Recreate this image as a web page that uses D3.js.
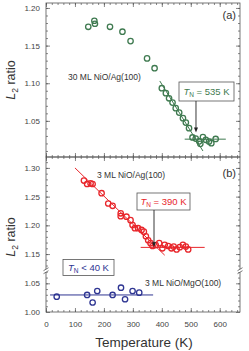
<!DOCTYPE html>
<html>
<head>
<meta charset="utf-8">
<script src="https://d3js.org/d3.v7.min.js"></script>
<style>
  body {margin: 0; background: #fff;}
  text {font-family: "Liberation Sans", Arial, sans-serif;}
</style>
</head>
<body>
<script>
// (a) 30 ML NiO/Ag(100)
var ag30T  = [146, 167, 169, 221, 264, 292, 349, 375, 400, 414, 425, 437, 448, 460, 473, 483, 494, 506, 517, 529, 533, 542, 552, 563, 571, 586];
var ag30L2 = [1.175, 1.183, 1.179, 1.175, 1.1685, 1.156, 1.133, 1.120, 1.0934, 1.0868, 1.080, 1.0743, 1.0669, 1.061, 1.0536, 1.0477, 1.0403, 1.028, 1.0265, 1.0228, 1.0195, 1.0284, 1.0248, 1.0225, 1.0204, 1.026];
var ag30Slope = [[393, 1.103], [542, 1.010]];
var ag30Flat  = [[479, 1.0257], [621, 1.0257]];

// (b) 3 ML NiO/Ag(100)
var ag3T  = [131, 142, 154, 161, 192, 215, 230, 258, 258, 278, 292, 299, 307, 318, 330, 338, 345, 353, 361, 368, 379, 391, 402, 410, 422, 433, 441, 451, 462, 473, 483, 491];
var ag3L2 = [1.278, 1.272, 1.273, 1.272, 1.256, 1.238, 1.234, 1.221, 1.216, 1.215, 1.209, 1.2005, 1.195, 1.195, 1.192, 1.189, 1.181, 1.174, 1.169, 1.164, 1.1656, 1.169, 1.160, 1.166, 1.164, 1.160, 1.163, 1.158, 1.162, 1.166, 1.163, 1.158];
var ag3Slope = [[100, 1.300], [410, 1.148]];
var ag3Flat  = [[327, 1.1616], [548, 1.1616]];

// (b) 3 ML NiO/MgO(100)
var mgoT  = [37, 142, 161, 177, 230, 259, 273, 299, 322];
var mgoL2 = [1.0267, 1.0297, 1.0166, 1.0366, 1.0297, 1.0424, 1.0222, 1.0366, 1.0337];
var mgoFlat = [[14, 1.0297], [370, 1.0297]];

var xTicks = [0, 100, 200, 300, 400, 500, 600];
var yTicksA = [1.05, 1.10, 1.15, 1.20];
var yTicksB = [1.00, 1.05, 1.15, 1.20, 1.25, 1.30];

var green = "#3f7a50", red = "#e8262b", blue = "#2e3592", frame = "#555";

var W = 249, H = 351;
var svg = d3.select("body").append("svg").attr("width", W).attr("height", H);

var x = d3.scaleLinear().domain([0, 670]).range([46, 240]);
var yA = d3.scaleLinear().domain([1.002, 1.2066]).range([157, 3]);
var yB = d3.scaleLinear().domain([1.0, 1.072, 1.121, 1.319]).range([312, 270.7, 270.7, 157]);

var minorX = d3.range(0, 670, 20);
var minorA = d3.range(1.01, 1.205, 0.01);
var minorB = d3.range(1.13, 1.315, 0.01).concat(d3.range(1.01, 1.071, 0.01));

function styleAxis(g) {
  g.select(".domain").remove();
  g.selectAll("line").attr("stroke", frame).attr("stroke-width", 0.7);
  g.selectAll("text").attr("font-size", "8px").attr("fill", "#444").attr("font-family", "Liberation Sans, Arial, sans-serif");
}

function panelAxes(y, yT, yMin, top, bottom, labelsX) {
  // x ticks, bottom & top
  svg.append("g").attr("transform", "translate(0," + bottom + ")")
    .call(d3.axisBottom(x).tickValues(xTicks).tickSize(-4).tickPadding(9).tickFormat(labelsX ? d3.format("d") : ""))
    .call(styleAxis);
  svg.append("g").attr("transform", "translate(0," + bottom + ")")
    .call(d3.axisBottom(x).tickValues(minorX).tickSize(-2).tickFormat(""))
    .call(styleAxis);
  svg.append("g").attr("transform", "translate(0," + top + ")")
    .call(d3.axisTop(x).tickValues(xTicks).tickSize(-4).tickFormat(""))
    .call(styleAxis);
  svg.append("g").attr("transform", "translate(0," + top + ")")
    .call(d3.axisTop(x).tickValues(minorX).tickSize(-2).tickFormat(""))
    .call(styleAxis);
  // y ticks, left & right
  svg.append("g").attr("transform", "translate(46,0)")
    .call(d3.axisLeft(y).tickValues(yT).tickSize(-4).tickPadding(6).tickFormat(d3.format(".2f")))
    .call(styleAxis);
  svg.append("g").attr("transform", "translate(46,0)")
    .call(d3.axisLeft(y).tickValues(yMin).tickSize(-2).tickFormat(""))
    .call(styleAxis);
  svg.append("g").attr("transform", "translate(240,0)")
    .call(d3.axisRight(y).tickValues(yT).tickSize(-4).tickFormat(""))
    .call(styleAxis);
  svg.append("g").attr("transform", "translate(240,0)")
    .call(d3.axisRight(y).tickValues(yMin).tickSize(-2).tickFormat(""))
    .call(styleAxis);
  svg.append("rect").attr("x", 46).attr("y", top).attr("width", 194).attr("height", bottom - top)
    .attr("fill", "none").attr("stroke", frame).attr("stroke-width", 0.8);
}

panelAxes(yA, yTicksA, minorA, 3, 157, false);
panelAxes(yB, yTicksB, minorB, 157, 312, true);

// axis break marks
[46, 240].forEach(function(bx) {
  var by = yB(1.072);
  svg.append("rect").attr("x", bx - 3).attr("y", by - 1.5).attr("width", 6).attr("height", 3).attr("fill", "#fff");
  [-1.5, 1.5].forEach(function(o) {
    svg.append("line").attr("x1", bx - 2.5).attr("x2", bx + 2.5).attr("y1", by + o + 1.5).attr("y2", by + o - 1.5)
      .attr("stroke", frame).attr("stroke-width", 0.8);
  });
});

function fitLine(pts, y, color) {
  svg.append("path")
    .attr("d", d3.line().x(function(d) { return x(d[0]); }).y(function(d) { return y(d[1]); })(pts))
    .attr("fill", "none").attr("stroke", color).attr("stroke-width", 1);
}

function points(T, L, y, color) {
  svg.append("g").selectAll("circle").data(T).enter().append("circle")
    .attr("cx", function(d) { return x(d); })
    .attr("cy", function(d, i) { return y(L[i]); })
    .attr("r", 2.7)
    .attr("fill", "none").attr("stroke", color).attr("stroke-width", 1.3);
}

fitLine(ag30Slope, yA, green);
fitLine(ag30Flat, yA, green);
points(ag30T, ag30L2, yA, green);

fitLine(ag3Slope, yB, red);
fitLine(ag3Flat, yB, red);
points(ag3T, ag3L2, yB, red);

fitLine(mgoFlat, yB, blue);
points(mgoT, mgoL2, yB, blue);

// annotation boxes
function tnBox(bx, by, bw, bh, txt, color) {
  svg.append("rect").attr("x", bx).attr("y", by).attr("width", bw).attr("height", bh)
    .attr("fill", "#fff").attr("stroke", frame).attr("stroke-width", 0.8);
  var t = svg.append("text").attr("x", bx + bw / 2).attr("y", by + bh / 2 + 3.5)
    .attr("text-anchor", "middle").attr("font-size", "9.5px").attr("fill", color);
  t.append("tspan").attr("font-style", "italic").text("T");
  t.append("tspan").attr("font-size", "6.5px").attr("dy", 2).text("N");
  t.append("tspan").attr("dy", -2).text(txt);
}
function arrow(ax, y1, y2) {
  svg.append("line").attr("x1", ax).attr("x2", ax).attr("y1", y1).attr("y2", y2 - 4)
    .attr("stroke", "#222").attr("stroke-width", 0.9);
  svg.append("path").attr("d", "M" + (ax - 2) + "," + (y2 - 5) + "L" + (ax + 2) + "," + (y2 - 5) + "L" + ax + "," + y2 + "Z")
    .attr("fill", "#222");
}

tnBox(179, 82, 55, 19, " = 535 K", green);
arrow(x(518), 101, yA(1.0345));
tnBox(137, 193, 53, 17, " = 390 K", red);
arrow(x(373), 210, yB(1.162));
tnBox(63, 259.5, 51, 16, " < 40 K", blue);

// sample labels
function label(lx, ly, txt, size, anchor) {
  svg.append("text").attr("x", lx).attr("y", ly).attr("font-size", size).attr("fill", "#333")
    .attr("text-anchor", anchor || "start").text(txt);
}
label(68, 80, "30 ML NiO/Ag(100)", "8.5px");
label(97, 178, "3 ML NiO/Ag(100)", "8.5px");
label(145, 285.5, "3 ML NiO/MgO(100)", "8.5px");
label(236, 19, "(a)", "11px", "end");
label(236, 177, "(b)", "11px", "end");

// axis titles
function yTitle(cy) {
  var t = svg.append("text").attr("transform", "translate(15," + cy + ") rotate(-90)")
    .attr("text-anchor", "middle").attr("font-size", "12.5px").attr("fill", "#333");
  t.append("tspan").attr("font-style", "italic").text("L");
  t.append("tspan").attr("font-size", "8.5px").attr("dy", 3).text("2");
  t.append("tspan").attr("dy", -3).text(" ratio");
}
yTitle(80);
yTitle(237);

svg.append("text").attr("x", 144).attr("y", 347).attr("text-anchor", "middle")
  .attr("font-size", "13.5px").attr("fill", "#333").text("Temperature (K)");
</script>
</body>
</html>
